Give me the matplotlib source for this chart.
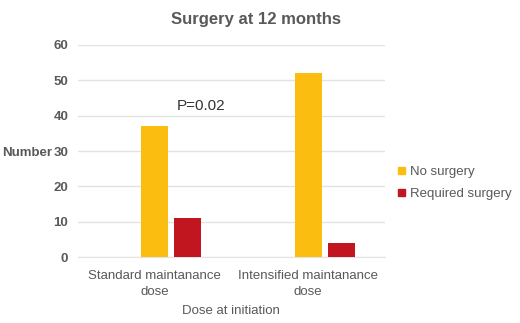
import matplotlib
matplotlib.use("Agg")
import matplotlib.pyplot as plt
from matplotlib.patches import Patch

categories = ["Standard maintanance\ndose", "Intensified maintanance\ndose"]
series_names = ["No surgery", "Required surgery"]
no_surgery = [37, 52]
required_surgery = [11, 4]
yticks = [0, 10, 20, 30, 40, 50, 60]
title = "Surgery at 12 months"
xlabel = "Dose at initiation"
ylabel = "Number"
annotation = "P=0.02"

plt.rcParams['font.family'] = ['Liberation Sans', 'DejaVu Sans']
gray = "#595959"
c_yellow = "#FBBD0F"
c_red = "#C1161F"
fs = 9.5

fig = plt.figure(figsize=(5.2, 3.23), dpi=100)
ax = fig.add_axes([0.15, 0.2043, 0.59, 0.6564])

x = list(range(len(categories)))
w = 0.176
off = 0.215
ax.bar(x, no_surgery, width=w, color=c_yellow, zorder=3)
ax.bar([i + off for i in x], required_surgery, width=w, color=c_red, zorder=3)

ax.set_xlim(-0.5, len(categories) - 0.5)
ax.set_ylim(0, 60)
ax.set_yticks(yticks)
ax.set_yticklabels([str(t) for t in yticks], fontsize=fs, color=gray, fontweight='bold')
ax.set_xticks(x)
ax.set_xticklabels(categories, fontsize=fs, color=gray, linespacing=1.5)
ax.tick_params(axis='x', length=0, pad=9)
ax.tick_params(axis='y', length=0, pad=7)
ax.yaxis.grid(True, color="#e3e3e3", linewidth=1, zorder=0)
for s in ["top", "right", "left"]:
    ax.spines[s].set_visible(False)
ax.spines["bottom"].set_color("#e3e3e3")

ax.set_title(title, fontsize=12, color=gray, fontweight='bold', pad=15, x=0.58)
ax.set_xlabel(xlabel, fontsize=fs, color=gray, labelpad=5)
fig.text(2/520, 1 - 153/323, ylabel, fontsize=fs, color=gray, fontweight='bold',
         va='center', ha='left')
ax.text(0.3, 42.8, annotation, fontsize=11, color="#333333", ha='center', va='center')

handles = [Patch(color=c_yellow), Patch(color=c_red)]
leg = fig.legend(handles, series_names, loc='center left', bbox_to_anchor=(0.766, 1 - 183/323),
                 frameon=False, fontsize=fs, handlelength=0.5, handleheight=0.5,
                 handletextpad=0.35, labelspacing=0.75, borderaxespad=0, borderpad=0)
for t in leg.get_texts():
    t.set_color(gray)

fig.savefig("out.png", dpi=100)
